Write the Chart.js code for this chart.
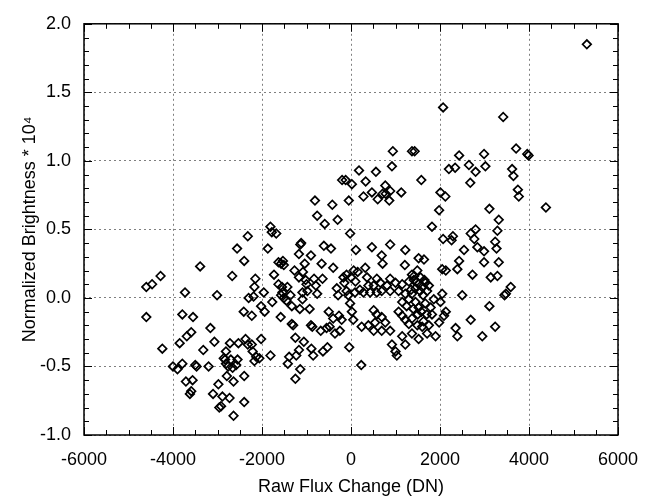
<!DOCTYPE html>
<html>
<head>
<meta charset="utf-8">
<title>Normalized Brightness vs Raw Flux Change</title>
<script src="https://cdn.jsdelivr.net/npm/chart.js@4.4.1/dist/chart.umd.min.js"></script>
<style>
  html, body { margin: 0; padding: 0; background: #fff; }
  #wrap { width: 656px; height: 499px; }
</style>
</head>
<body>
<div id="wrap"><canvas id="fluxChart" width="656" height="499"></canvas></div>
<script>
// [raw flux change (DN), normalized brightness * 1e4]
const westPoints = [
    [-4600, 0.08], [-4470, 0.10], [-4280, 0.16], [-4600, -0.14], [-4240, -0.37],
    [-3390, 0.23], [-3730, 0.04], [-3790, -0.12], [-3550, -0.14], [-3850, -0.33],
    [-3690, -0.28], [-3590, -0.25], [-3790, -0.48], [-4000, -0.50], [-3900, -0.52],
    [-3710, -0.61], [-3560, -0.60], [-3470, -0.50], [-3500, -0.49], [-3590, -0.68],
    [-3620, -0.70], [-3320, -0.38], [-3200, -0.50], [-3160, -0.22], [-3070, -0.32],
    [-3010, 0.02], [-3100, -0.70], [-2980, -0.63], [-2960, -0.80], [-2920, -0.79],
    [-2890, -0.72], [-2830, -0.45], [-2810, -0.39], [-2720, -0.33], [-2860, -0.44],
    [-2810, -0.48], [-2760, -0.50], [-2660, -0.51], [-2580, -0.49], [-2550, -0.45],
    [-2700, -0.45], [-2730, -0.73], [-2640, -0.86], [-2640, -0.61], [-2790, -0.57],
    [-2670, 0.16], [-2560, 0.36], [-2530, -0.33]
];

const centreWestPoints = [
    [-2400, 0.27], [-2320, 0.45], [-2410, -0.10], [-2230, -0.13], [-2370, -0.30],
    [-2400, -0.57], [-2400, -0.76], [-2300, 0.00], [-2190, 0.01], [-2170, 0.08],
    [-2150, 0.14], [-2320, -0.34], [-2230, -0.34], [-2210, -0.39], [-2130, -0.43],
    [-2170, -0.46], [-2060, -0.44], [-2020, -0.30], [-1960, 0.04], [-2020, -0.06],
    [-1940, -0.10], [-1870, 0.36], [-1810, 0.52], [-1780, 0.48], [-1680, 0.47],
    [-1730, 0.17], [-1810, -0.42], [-1770, -0.03], [-1630, 0.26], [-1570, 0.25],
    [-1510, 0.24], [-1530, 0.27], [-1630, 0.10], [-1580, -0.14], [-1550, 0.08],
    [-1570, 0.02], [-1510, 0.00], [-1540, 0.04], [-1430, 0.08], [-1450, -0.02],
    [-1420, -0.48], [-1390, -0.43], [-1330, -0.19], [-1300, -0.20], [-1330, -0.06],
    [-1360, 0.02], [-1250, -0.29], [-1250, -0.59], [-1230, -0.42], [-1270, 0.20],
    [-1170, -0.38], [-1140, -0.52], [-1140, 0.39], [-1120, 0.40], [-1170, 0.32],
    [-1170, 0.15], [-1150, -0.08], [-1090, 0.04], [-1090, -0.01], [-1060, -0.32],
    [-1040, 0.25], [-1080, 0.19], [-1020, 0.13], [-1000, 0.10], [-980, 0.05],
    [-900, 0.31], [-930, -0.08], [-890, -0.37], [-900, -0.20], [-870, -0.21],
    [-850, -0.42], [-830, 0.14], [-790, 0.09], [-760, 0.03], [-810, 0.71],
    [-760, 0.60], [-660, 0.25], [-640, 0.14], [-680, -0.24], [-630, -0.39],
    [-610, 0.38], [-590, 0.54], [-550, -0.22], [-530, -0.36], [-500, -0.10],
    [-480, -0.21], [-450, 0.36], [-420, 0.68], [-400, 0.22], [-400, -0.15],
    [-360, -0.26], [-300, 0.57], [-320, 0.07], [-290, 0.02], [-270, -0.13],
    [-210, -0.16], [-250, -0.24], [-200, 0.86], [-120, 0.86], [-50, 0.71],
    [20, 0.83], [-20, 0.47], [-40, -0.36], [110, 0.35], [180, 0.93],
    [-170, 0.15], [-150, 0.11], [-100, 0.17], [-20, -0.04], [20, -0.10],
    [50, -0.16], [90, 0.04], [150, 0.19], [-60, 0.02], [230, -0.49],
    [-100, 0.05], [0, 0.15], [60, 0.20], [100, 0.12], [200, 0.06]
];

const centreEastUpper = [
    [940, 1.07], [1370, 1.07], [1430, 1.07], [2430, 1.04], [560, 0.92],
    [920, 0.96], [330, 0.85], [2200, 0.94], [2340, 0.95], [2650, 0.97],
    [2800, 0.92], [2680, 0.84], [1580, 0.86], [770, 0.82], [280, 0.74],
    [470, 0.77], [600, 0.72], [710, 0.76], [780, 0.76], [860, 0.71],
    [880, 0.78], [1130, 0.77], [2010, 0.77], [2120, 0.74], [1980, 0.64],
    [1820, 0.52], [2070, 0.43], [2260, 0.42], [2290, 0.45], [2690, 0.47],
    [2800, 0.50], [2770, 0.43], [2840, 0.37], [2540, 0.35], [470, 0.37],
    [880, 0.39], [1220, 0.35], [2070, 1.39]
];

const centreEastLower = [
    [690, 0.31], [710, 0.25], [1210, 0.24], [1520, 0.29], [1640, 0.28],
    [2050, 0.21], [2130, 0.20], [2430, 0.27], [2390, 0.21], [2730, 0.17],
    [320, 0.22], [360, 0.15], [580, 0.14], [660, 0.11], [880, 0.14],
    [1000, 0.11], [810, 0.09], [510, 0.09], [390, 0.09], [1150, 0.10],
    [1370, 0.17], [1490, 0.20], [1560, 0.15], [1670, 0.11], [1600, 0.08],
    [1710, 0.05], [280, 0.04], [430, 0.04], [580, 0.04], [690, 0.05],
    [880, 0.05], [1070, 0.05], [1220, 0.03], [1370, 0.03], [1150, -0.03],
    [1300, -0.01], [1450, -0.03], [1520, -0.07], [1670, -0.04], [1790, -0.07],
    [1860, -0.01], [2010, -0.03], [2050, 0.03], [2130, -0.10], [2090, -0.13],
    [2500, 0.02], [1820, -0.12], [510, -0.09], [580, -0.12], [690, -0.14],
    [770, -0.18], [540, -0.18], [390, -0.20], [240, -0.21], [510, -0.24],
    [690, -0.24], [880, -0.24], [1070, -0.10], [1150, -0.13], [1220, -0.16],
    [1300, -0.19], [1370, -0.15], [1490, -0.20], [1600, -0.21], [1750, -0.20],
    [1980, -0.18], [1150, -0.28], [1370, -0.26], [1520, -0.30], [1710, -0.26],
    [1900, -0.28], [2350, -0.22], [2390, -0.28], [2690, -0.16], [1410, 0.13],
    [1520, 0.10], [1750, 0.09], [1450, 0.07], [920, -0.34], [1000, -0.39],
    [1030, -0.42], [1220, -0.34],
    [1300, 0.12], [1350, 0.06], [1420, 0.16], [1470, 0.12], [1550, 0.05],
    [1620, 0.02], [1650, 0.13], [1500, -0.12], [1580, -0.10], [1400, -0.08],
    [1250, -0.06], [1700, -0.12], [1630, -0.17]
];

const eastPoints = [
    [5300, 1.85], [3420, 1.32], [3710, 1.09], [3990, 1.04], [3960, 1.05],
    [2990, 1.05], [3020, 0.96], [3620, 0.94], [3650, 0.89], [3750, 0.79],
    [3770, 0.74], [3110, 0.65], [4380, 0.66], [3320, 0.57], [3290, 0.49],
    [3240, 0.41], [3270, 0.36], [2990, 0.34], [2990, 0.26], [3320, 0.26],
    [3140, 0.15], [3290, 0.16], [3590, 0.08], [3480, 0.03], [3450, 0.02],
    [3110, -0.06], [3240, -0.21], [2950, -0.28]
];

const xTickLabels = ['-6000', '-4000', '-2000', '0', '2000', '4000', '6000'];
const yTickLabels = ['-1.0', '-0.5', '0.0', '0.5', '1.0', '1.5', '2.0'];

const fontFamily = '"Liberation Sans", Arial, Helvetica, sans-serif';

const allPoints = westPoints
    .concat(centreWestPoints, centreEastUpper, centreEastLower, eastPoints)
    .map(p => ({ x: p[0], y: p[1] }));

function isMajorX(v) { return Math.round(v) % 2000 === 0; }
function isMajorY(v) { return Math.round(v * 10) % 5 === 0; }

// frame on all four sides with inward tick marks, like the original plot
const frameTicks = {
    id: 'frameTicks',
    afterDraw(chart) {
        const { ctx, chartArea: a, scales: { x, y } } = chart;
        ctx.save();
        ctx.strokeStyle = '#000';
        ctx.lineWidth = 1;
        ctx.beginPath();
        x.ticks.forEach(t => {
            const px = Math.round(x.getPixelForValue(t.value)) + 0.5;
            const len = isMajorX(t.value) ? 8 : 5;
            ctx.moveTo(px, a.bottom); ctx.lineTo(px, a.bottom - len);
            ctx.moveTo(px, a.top); ctx.lineTo(px, a.top + len);
        });
        y.ticks.forEach(t => {
            const py = Math.round(y.getPixelForValue(t.value)) + 0.5;
            const len = isMajorY(t.value) ? 8 : 5;
            ctx.moveTo(a.left, py); ctx.lineTo(a.left + len, py);
            ctx.moveTo(a.right, py); ctx.lineTo(a.right - len, py);
        });
        ctx.stroke();
        ctx.lineWidth = 1.5;
        ctx.strokeRect(a.left, a.top, a.right - a.left, a.bottom - a.top);
        ctx.restore();
    }
};

const ctx = document.getElementById('fluxChart');

new Chart(ctx, {
    type: 'scatter',
    data: {
        datasets: [{
            label: 'Brightness',
            data: allPoints,
            pointStyle: 'rectRot',
            pointRadius: 4.3,
            pointBorderWidth: 1.7,
            pointBorderColor: '#000',
            pointBackgroundColor: 'rgba(255,255,255,0)'
        }]
    },
    options: {
        responsive: false,
        animation: false,
        devicePixelRatio: 1,
        layout: {
            padding: { left: 19, top: 17, right: 38, bottom: 0 }
        },
        plugins: {
            legend: { display: false },
            tooltip: { enabled: false }
        },
        scales: {
            x: {
                type: 'linear',
                min: -6000,
                max: 6000,
                afterFit(scale) { scale.height = 64; },
                ticks: {
                    stepSize: 500,
                    autoSkip: false,
                    maxRotation: 0,
                    padding: 14,
                    color: '#000',
                    font: { family: fontFamily, size: 18 },
                    callback: v => isMajorX(v) ? xTickLabels[Math.round((v + 6000) / 2000)] : ''
                },
                grid: {
                    drawTicks: false,
                    lineWidth: 1,
                    color: c => isMajorX(c.tick.value) ? 'rgba(0,0,0,0.5)' : 'rgba(0,0,0,0)'
                },
                border: { display: false, dash: [2, 3] },
                title: {
                    display: true,
                    text: 'Raw Flux Change (DN)',
                    color: '#000',
                    font: { family: fontFamily, size: 18 },
                    padding: { top: 1, bottom: 1 }
                }
            },
            y: {
                type: 'linear',
                min: -1,
                max: 2,
                afterFit(scale) { scale.width = 65; },
                ticks: {
                    stepSize: 0.1,
                    autoSkip: false,
                    padding: 13,
                    color: '#000',
                    font: { family: fontFamily, size: 18 },
                    callback: v => isMajorY(v) ? yTickLabels[Math.round((v + 1) * 2)] : ''
                },
                grid: {
                    drawTicks: false,
                    lineWidth: 1,
                    color: c => isMajorY(c.tick.value) ? 'rgba(0,0,0,0.5)' : 'rgba(0,0,0,0)'
                },
                border: { display: false, dash: [2, 3] },
                title: {
                    display: true,
                    text: 'Normalized Brightness * 10\u2074',
                    color: '#000',
                    font: { family: fontFamily, size: 18 },
                    padding: { top: 0, bottom: 0 }
                }
            }
        }
    },
    plugins: [frameTicks]
});
</script>
</body>
</html>
